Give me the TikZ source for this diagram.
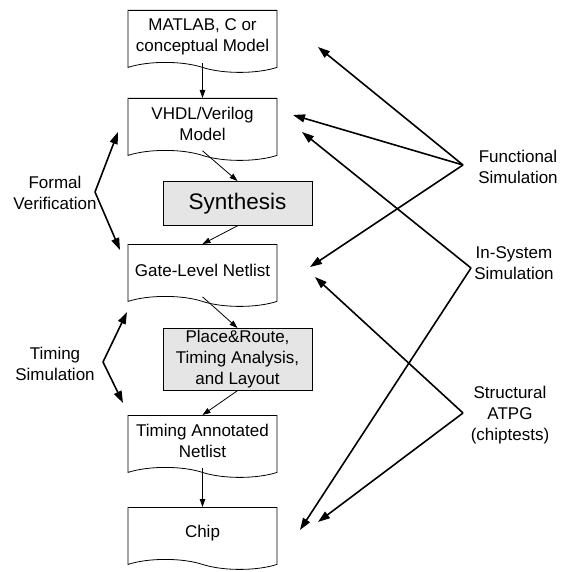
\documentclass[tikz,border=0pt]{standalone}
\usepackage{fontspec}
\setmainfont{Liberation Sans}
\usetikzlibrary{positioning,shapes.symbols,arrows.meta}

\begin{document}
\begin{tikzpicture}[x=1pt,y=-1pt,
        docbox/.style={tape, tape bend top=none, tape bend bottom=out and in, tape bend height=10pt, draw=black, line width=0.8pt, minimum width=149pt, minimum height=62pt, inner sep=2pt, align=center, font=\fontsize{17}{21}\selectfont, anchor=north},
        procbox/.style={rectangle, draw=black, line width=0.8pt, fill=black!10, minimum width=149pt, inner sep=2pt, align=center, font=\fontsize{17}{21}\selectfont, anchor=north},
        sidelabel/.style={align=center, font=\fontsize{17}{21}\selectfont},
        flow/.style={-{Triangle[length=8pt,width=5.5pt]}, line width=0.8pt},
        sim/.style={-{Triangle[length=12pt,width=8pt]}, line width=1.6pt}
    ]
    \useasboundingbox (0,0) rectangle (569,572);

    % Design flow
    \node[docbox] at (202.5,10) (matlab) {MATLAB, C or\\conceptual Model};
    \node[docbox] at (202.5,98) (vhdl) {VHDL/Verilog\\Model};
    \node[procbox, minimum height=44pt, font=\fontsize{22.5}{27}\selectfont] at (237.5,181) (synth) {Synthesis};
    \node[docbox] at (202.5,244) (gate) {Gate-Level Netlist};
    \node[procbox, minimum height=59pt] at (237.5,328) (place) {Place\&Route,\\Timing Analysis,\\and Layout};
    \node[docbox] at (202.5,415) (timing) {Timing Annotated\\Netlist};
    \node[docbox] at (202.5,507) (chip) {Chip};

    % Flow arrows
    \draw[flow] (matlab.south) -- (vhdl.north);
    \draw[flow] (vhdl.south) -- (synth.north);
    \draw[flow] (synth.south) -- (gate.north);
    \draw[flow] (gate.south) -- (place.north);
    \draw[flow] (place.south) -- (timing.north);
    \draw[flow] (timing.south) -- (chip.north);

    % Left labels
    \node[sidelabel] at (55,193) (formal) {Formal\\Verification};
    \node[sidelabel] at (55,364) (timsim) {Timing\\Simulation};

    % Right labels
    \node[sidelabel] at (518,167) (func) {Functional\\Simulation};
    \node[sidelabel] at (514,263) (insys) {In-System\\Simulation};
    \node[sidelabel] at (510,415) (atpg) {Structural\\ATPG\\(chiptests)};

    % Corners of the brackets
    \coordinate (formal-c) at (95,192);
    \coordinate (timsim-c) at (103,362);
    \coordinate (func-c) at (463,165);
    \coordinate (insys-c) at (471,268);
    \coordinate (atpg-c) at (463,413);

    % Arrow targets
    \coordinate (formal-up) at (118,132);
    \coordinate (formal-dn) at (120,250);
    \coordinate (timsim-up) at (127,312);
    \coordinate (timsim-dn) at (123,403);
    \coordinate (func-matlab) at (318,47);
    \coordinate (func-vhdl) at (293,115);
    \coordinate (func-gate) at (310,267);
    \coordinate (insys-vhdl) at (302,132);
    \coordinate (insys-chip) at (300,530);
    \coordinate (atpg-gate) at (315,277);
    \coordinate (atpg-chip) at (318,522);

    % Simulation arrows
    \draw[sim] (formal-c) -- (formal-up);
    \draw[sim] (formal-c) -- (formal-dn);
    \draw[sim] (timsim-c) -- (timsim-up);
    \draw[sim] (timsim-c) -- (timsim-dn);
    \draw[sim] (func-c) -- (func-matlab);
    \draw[sim] (func-c) -- (func-vhdl);
    \draw[sim] (func-c) -- (func-gate);
    \draw[sim] (insys-c) -- (insys-vhdl);
    \draw[sim] (insys-c) -- (insys-chip);
    \draw[sim] (atpg-c) -- (atpg-gate);
    \draw[sim] (atpg-c) -- (atpg-chip);

\end{tikzpicture}
\end{document}
